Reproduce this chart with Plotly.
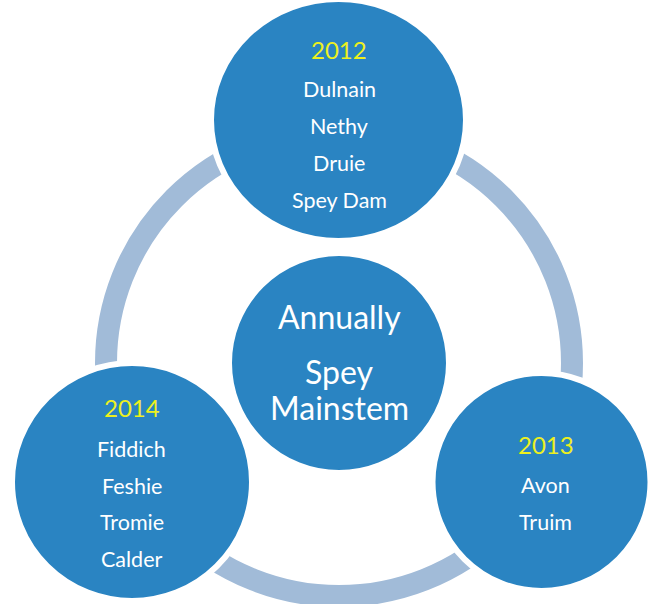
import plotly.graph_objects as go

# ---- content ----
center_lines = ["Annually", "Spey", "Mainstem"]
years = ["2012", "2013", "2014"]
rivers_2012 = ["Dulnain", "Nethy", "Druie", "Spey Dam"]
rivers_2013 = ["Avon", "Truim"]
rivers_2014 = ["Fiddich", "Feshie", "Tromie", "Calder"]

# ---- layout (pixel units) ----
W, H = 649, 604
BLUE = "#2A84C2"
RING = "#A1BBD8"
YEAR_COL = "#EDF01E"
FONT = "Lato"

# ellipse: cx, cy, rx, ry
top_c = (338.5, 120, 127.5, 121)
right_c = (541.5, 482, 109, 109)
left_c = (132, 482, 120, 119)
mid_c = (339, 363, 110, 110)
ring = (339, 363, 233, 22)

fig = go.Figure()
shapes = []
rcx, rcy, rr, rw = ring
shapes.append(dict(type="circle", xref="x", yref="y",
                   x0=rcx - rr, x1=rcx + rr, y0=rcy - rr, y1=rcy + rr,
                   line=dict(color=RING, width=rw), fillcolor="rgba(0,0,0,0)"))
for (cx, cy, rx, ry) in [top_c, right_c, left_c, mid_c]:
    shapes.append(dict(type="circle", xref="x", yref="y",
                       x0=cx - rx, x1=cx + rx, y0=cy - ry, y1=cy + ry,
                       fillcolor=BLUE, line=dict(color="white", width=6)))

ann = []
def add_text(x, y, t, size, color="white"):
    ann.append(dict(x=x, y=y, xref="x", yref="y", text=t, showarrow=False,
                    font=dict(family=FONT, size=size, color=color),
                    xanchor="center", yanchor="middle"))

RS, YS, CS = 21.5, 24, 32
# top circle
add_text(339, 49, years[0], YS, YEAR_COL)
for i, r in enumerate(rivers_2012):
    add_text(339, 89 + i * 37, r, RS)
# right circle
add_text(545.5, 444, years[1], YS, YEAR_COL)
for i, r in enumerate(rivers_2013):
    add_text(545.5, 485 + i * 36.5, r, RS)
# left circle
add_text(131.5, 407.5, years[2], YS, YEAR_COL)
for i, r in enumerate(rivers_2014):
    add_text(131.5, 449 + i * 36.5, r, RS)
# middle
mid_y = [316, 371, 407.5]
for t, y in zip(center_lines, mid_y):
    add_text(339, y, t, CS)

fig.update_layout(
    width=W, height=H, margin=dict(l=0, r=0, t=0, b=0),
    paper_bgcolor="white", plot_bgcolor="white",
    shapes=shapes, annotations=ann, showlegend=False,
    xaxis=dict(range=[0, W], visible=False, fixedrange=True),
    yaxis=dict(range=[H, 0], visible=False, fixedrange=True),
)
fig.write_html("out.html", config={"displayModeBar": False},
               post_script="document.body.style.margin='0';")
